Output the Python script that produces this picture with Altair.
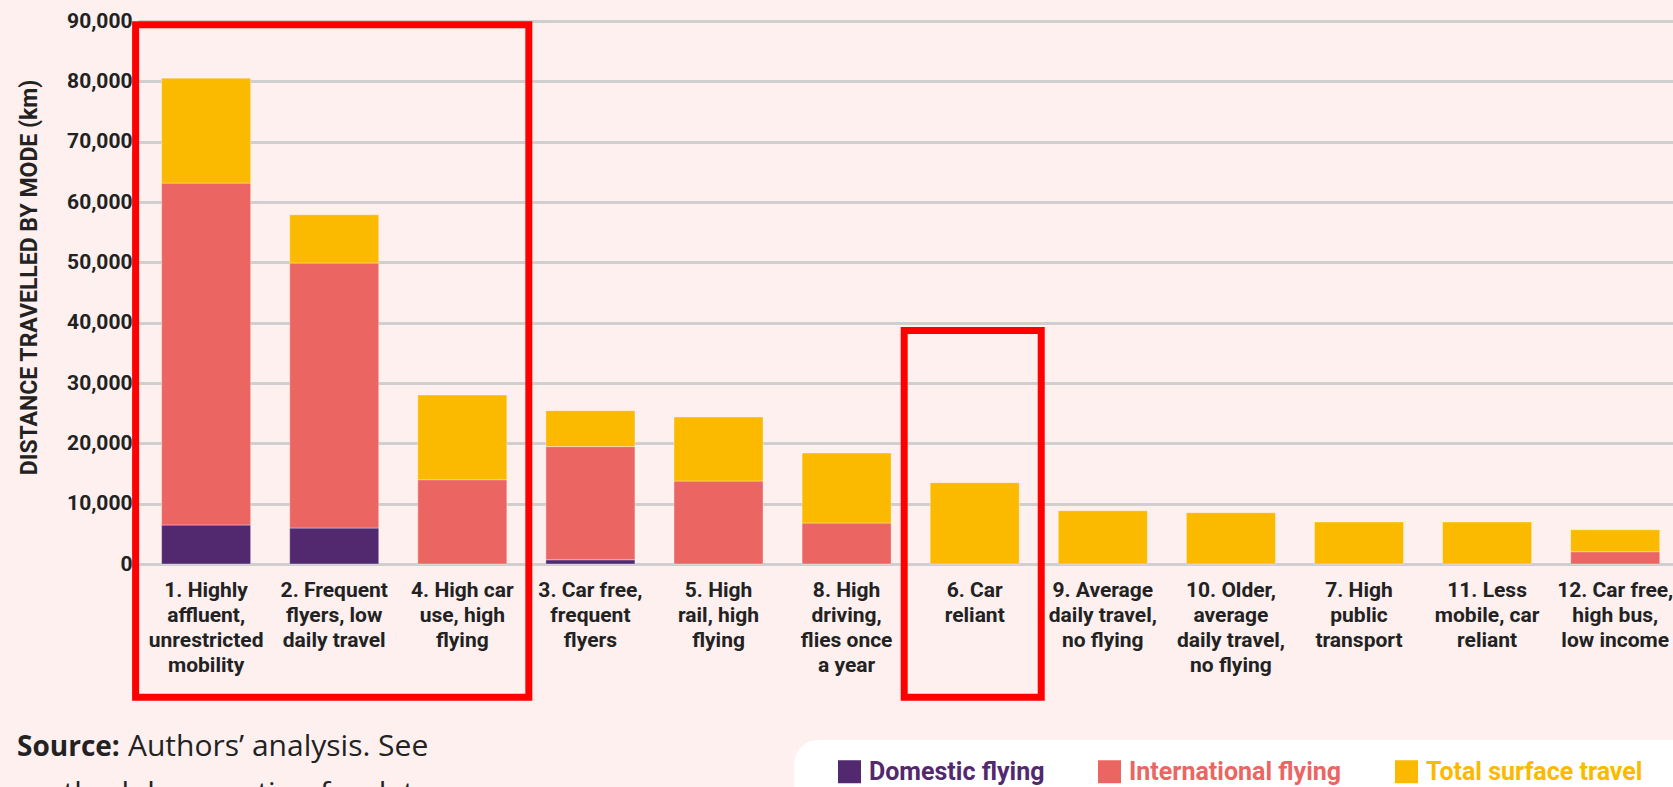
import altair as alt
import pandas as pd

# Segment categories, in the order they are plotted
categories = [
    "1. Highly\naffluent,\nunrestricted\nmobility",
    "2. Frequent\nflyers, low\ndaily travel",
    "4. High car\nuse, high\nflying",
    "3. Car free,\nfrequent\nflyers",
    "5. High\nrail, high\nflying",
    "8. High\ndriving,\nflies once\na  year",
    "6. Car\nreliant",
    "9. Average\ndaily travel,\nno flying",
    "10. Older,\naverage\ndaily travel,\nno flying",
    "7. High\npublic\ntransport",
    "11. Less\nmobile, car\nreliant",
    "12. Car free,\nhigh bus,\nlow income",
]

series = ["Domestic flying", "International flying", "Total surface travel"]
colors = ["#52296E", "#EB6662", "#FBB900"]

# Annual distance travelled by mode (km)
domestic = [6460, 5960, 0, 700, 0, 0, 0, 0, 0, 0, 0, 0]
international = [56670, 43920, 13970, 18760, 13750, 6790, 0, 0, 0, 0, 0, 2040]
surface = [17400, 8000, 14030, 5960, 10610, 11600, 13470, 8830, 8500, 6960, 6960, 3640]

# Highlight frames: first and last segment covered, top of frame, bottom of frame (km)
frame_start = [categories[0], categories[6]]
frame_end = [categories[2], categories[6]]
frame_top = [89360, 38690]
frame_bottom = [-22070, -22070]

y_ticks = list(range(0, 90001, 10000))

rows = []
for i, cat in enumerate(categories):
    for k, (name, vals) in enumerate(zip(series, [domestic, international, surface])):
        rows.append({"segment": cat, "mode": name, "km": vals[i], "order": k})
df = pd.DataFrame(rows)

frames = pd.DataFrame({
    "start": frame_start, "end": frame_end,
    "top": frame_top, "bottom": frame_bottom,
})

FONT = "Roboto"
NOTE_FONT = "Open Sans"
INK = "#222222"
Y_TITLE = "DISTANCE TRAVELLED BY MODE (km)"

x_scale = alt.Scale(domain=categories, paddingInner=0.305, paddingOuter=0.144, align=0.64)
y_scale = alt.Scale(domain=[0, 90000], nice=False)

label_color_expr = " : ".join(
    f"datum.label == '{s}' ? '{c}'" for s, c in zip(series[:-1], colors[:-1])
) + f" : '{colors[-1]}'"

bars = alt.Chart(df).transform_filter("datum.km > 0").mark_bar(
    stroke="white", strokeOpacity=0.35, strokeWidth=1
).encode(
    x=alt.X("segment:N", scale=x_scale, sort=categories, title="", axis=alt.Axis(
        labelAngle=0, labelExpr="split(datum.label, '\\n')",
        labelFont=FONT, labelFontWeight="bold", labelFontSize=21, labelLineHeight=25,
        labelColor=INK, labelPadding=15, labelBaseline="top", labelAlign="center",
        labelLimit=0, labelOverlap=False, ticks=False, domain=False, grid=False,
    )),
    y=alt.Y("km:Q", stack="zero", scale=y_scale, title=Y_TITLE, axis=alt.Axis(
        values=y_ticks, format=",.0f", labelFont=FONT, labelFontWeight="bold",
        labelFontSize=21, labelColor=INK, labelPadding=6, ticks=False, domain=False,
        grid=True, gridColor="#CFCFCF", gridWidth=3,
        titleFont=FONT, titleFontSize=23,
        titleFontWeight="bold", titleColor=INK, titleX=-109, titleY=256,
        titleAngle=-90, titleAlign="center", titleBaseline="middle",
    )),
    color=alt.Color("mode:N", scale=alt.Scale(domain=series, range=colors), legend=alt.Legend(
        orient="none", legendX=699, legendY=738, direction="horizontal", title=None,
        symbolType="square", symbolSize=529, symbolStrokeWidth=0, symbolOpacity=1,
        labelFont=FONT, labelFontWeight="bold", labelFontSize=25, labelOffset=7,
        columnPadding=52, labelLimit=0, padding=0,
        labelColor={"expr": label_color_expr},
    )),
    order=alt.Order("order:Q", sort="ascending"),
)

frame_boxes = alt.Chart(frames).mark_rect(
    filled=False, stroke="#FF0000", strokeWidth=7, xOffset=-26, x2Offset=22
).encode(
    x=alt.X("start:N", scale=x_scale, bandPosition=0, title=""),
    x2=alt.X2("end", bandPosition=1, title=""),
    y=alt.Y("top:Q", scale=y_scale, title=Y_TITLE),
    y2=alt.Y2("bottom", title=Y_TITLE),
)

legend_panel = alt.Chart(pd.DataFrame({"k": [0]})).mark_rect(
    fill="white", cornerRadius=24
).encode(
    x=alt.value(656), x2=alt.value(1620), y=alt.value(719), y2=alt.value(830)
)

source_bold = alt.Chart(pd.DataFrame({"k": [0]})).mark_text(
    font=NOTE_FONT, fontSize=28, fontWeight="bold", color=INK, align="left", baseline="alphabetic"
).encode(x=alt.value(-121), y=alt.value(735), text=alt.value("Source:"))

source_rest = alt.Chart(pd.DataFrame({"k": [0]})).mark_text(
    font=NOTE_FONT, fontSize=30, color=INK, align="left", baseline="alphabetic"
).encode(x=alt.value(-10), y=alt.value(735), text=alt.value("Authors\u2019 analysis. See"))

source_line2 = alt.Chart(pd.DataFrame({"k": [0]})).mark_text(
    font=NOTE_FONT, fontSize=30, color=INK, align="left", baseline="alphabetic"
).encode(x=alt.value(-119), y=alt.value(782), text=alt.value("methodology section for data"))

chart = alt.layer(
    legend_panel, bars, frame_boxes, source_bold, source_rest, source_line2
).properties(
    width=1535, height=543,
    autosize=alt.AutoSizeParams(type="none"),
    padding={"left": 138, "top": 21, "right": 0, "bottom": 223},
    background="#FDF0EF",
).configure_view(stroke=None)

chart.save("out.html", embed_options={"renderer": "svg", "actions": False})
